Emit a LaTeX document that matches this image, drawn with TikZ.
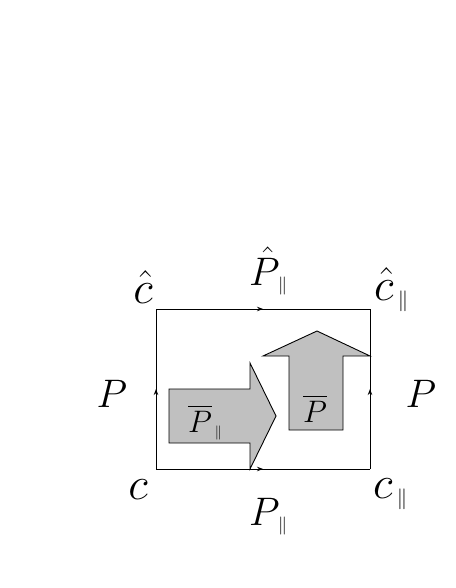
\documentclass[tikz,border=0pt]{standalone}
\usepackage{amsmath,amssymb}
\usepackage{graphicx}
\usepackage{tikz}
\usetikzlibrary{arrows.meta,decorations.markings,positioning}
\definecolor{arrowgray}{RGB}{192,192,192}
\newcommand{\parsub}{_{\mkern2mu\scalebox{0.65}{$\scriptscriptstyle\parallel$}}}
\newcommand{\biglab}[1]{\scalebox{1.6}{\Huge$#1$}}
\newcommand{\clab}[1]{\scalebox{1.85}{\Huge$#1$}}
\newcommand{\innerlab}[1]{\scalebox{1.25}{\Huge$#1$}}

\begin{document}
\begin{tikzpicture}[
    x=1pt, y=-1pt,
    edge/.style={line width=0.9pt, postaction={decorate},
      decoration={markings, mark=at position 0.5 with {\arrow{Stealth[length=6pt,width=4.5pt]}}}},
    big/.style={inner sep=0pt, anchor=base},
    fat/.style={draw, line width=0.9pt, fill=arrowgray},
]
    \useasboundingbox (0,0) rectangle (455,588);
    % corners of the loop
    \coordinate (c) at (156,469);
    \coordinate (cp) at (370,469);
    \coordinate (ch) at (156,309);
    \coordinate (chp) at (370,309);
    % the two fat arrows
    \draw[fat] (169,389) -- (250,389) -- (250,363) -- (276,416) -- (250,469)
        -- (250,443) -- (169,443) -- cycle;
    \draw[fat] (289,430) -- (289,356) -- (263,356) -- (317,331) -- (370,356)
        -- (343,356) -- (343,430) -- cycle;
    % loop edges
    \draw[edge] (c) -- (ch);
    \draw[edge] (ch) -- (chp);
    \draw[edge] (c) -- (cp);
    \draw[edge] (cp) -- (chp);
    % labels
    \node[big] (lch) at (143,303) {\clab{\hat{c}}};
    \node[big, anchor=base west] (ltop) at (249,285) {\biglab{\hat{P}\parsub}};
    \node[big, anchor=base west] (lchp) at (374,300) {\clab{\hat{c}\parsub}};
    \node[big] (lc) at (138,499) {\clab{c}};
    \node[big, anchor=base west] (lbot) at (249,525) {\biglab{P\parsub}};
    \node[big, anchor=base west] (lcp) at (373,498) {\clab{c\parsub}};
    \node[big] (lleft) at (112,407) {\biglab{P}};
    \node[big] (lright) at (421,407) {\biglab{P}};
    \node[big, anchor=base west] (lbarpp) at (188,432) {\innerlab{\overline{P}\parsub}};
    \node[big] (lbarp) at (315,422) {\innerlab{\overline{P}}};
\end{tikzpicture}
\end{document}
